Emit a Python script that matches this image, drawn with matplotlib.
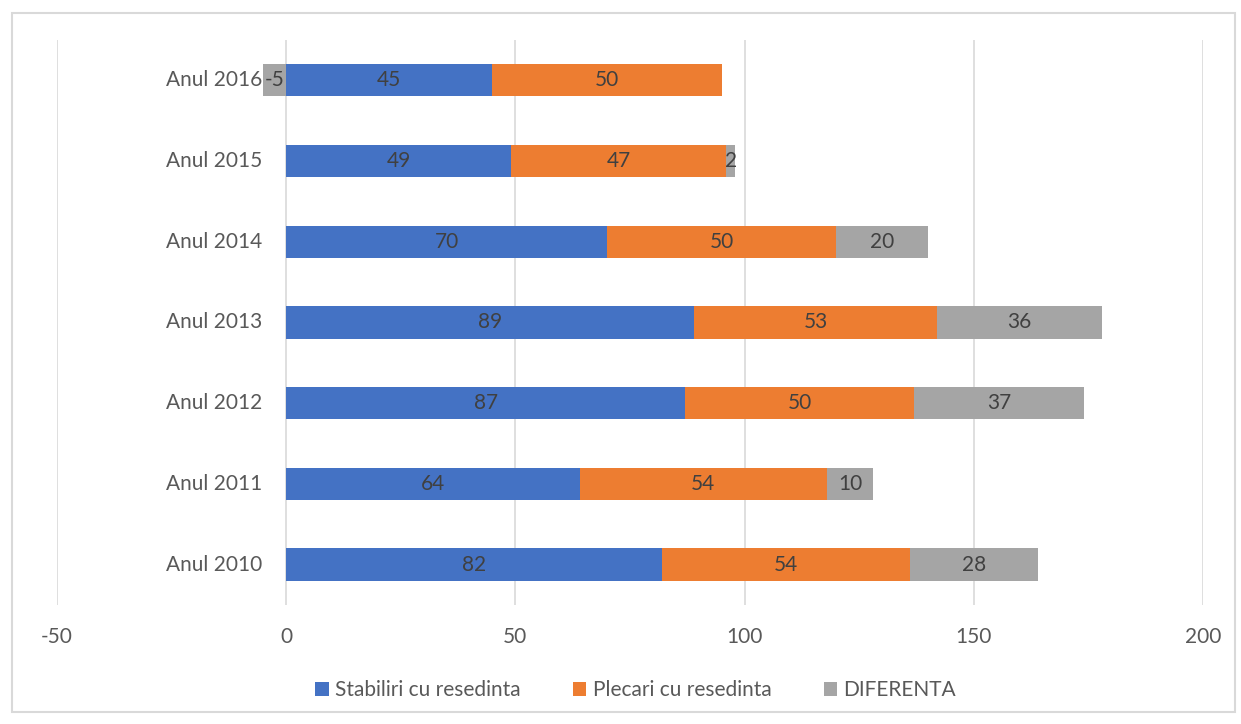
import numpy as np
import matplotlib.pyplot as plt
from matplotlib.patches import Rectangle

# date: stabiliri / plecari cu resedinta si diferenta, pe ani
ani = ["Anul 2010", "Anul 2011", "Anul 2012", "Anul 2013", "Anul 2014", "Anul 2015", "Anul 2016"]
stabiliri = [82, 64, 87, 89, 70, 49, 45]
plecari = [54, 54, 50, 53, 50, 47, 50]
diferenta = [28, 10, 37, 36, 20, 2, -5]

plt.rcParams['font.family'] = ['Lato', 'DejaVu Sans']
plt.rcParams['axes.unicode_minus'] = False
text_col = "#595959"
lbl_col = "#404040"
fs = 15

fig = plt.figure(figsize=(12.41, 7.24), dpi=100)
ax = fig.add_axes([0.0459, 0.1644, 0.9235, 0.7804])

# chenarul graficului
fig.patches.append(Rectangle((12 / 1241, 1 - 712 / 724), 1223 / 1241, 699 / 724,
                             transform=fig.transFigure, fill=False,
                             edgecolor="#d9d9d9", linewidth=1.5))

y = np.arange(len(ani))
h = 0.4
stab = np.array(stabiliri)
plec = np.array(plecari)
dif = np.array(diferenta)

b1 = ax.barh(y, stab, height=h, color="#4472C4", label="Stabiliri cu resedinta", zorder=3)
b2 = ax.barh(y, plec, left=stab, height=h, color="#ED7D31", label="Plecari cu resedinta", zorder=3)
# valorile negative se stivuiesc de la 0 spre stanga
dif_left = np.where(dif >= 0, stab + plec, 0)
b3 = ax.barh(y, dif, left=dif_left, height=h, color="#A5A5A5", label="DIFERENTA", zorder=3)

for vals, lefts in [(stab, np.zeros_like(stab)), (plec, stab), (dif, dif_left)]:
    for yi, v, l in zip(y, vals, lefts):
        ax.text(l + v / 2, yi, str(v), ha="center", va="center",
                fontsize=fs, color=lbl_col, zorder=4)

ax.set_xlim(-50, 200)
ax.set_ylim(-0.5, len(ani) - 0.5)
ax.set_xticks([-50, 0, 50, 100, 150, 200])
ax.set_yticks(y)
ax.set_yticklabels([])
ax.grid(axis="x", color="#d9d9d9", linewidth=1.2, zorder=0)
for s in ax.spines.values():
    s.set_visible(False)
ax.tick_params(axis="both", length=0, labelsize=fs, colors=text_col)
ax.tick_params(axis="x", pad=16)

# etichetele de an stau langa axa 0
for yi, an in zip(y, ani):
    ax.annotate(an, (0, yi), xytext=(-17, 0), textcoords="offset points",
                ha="right", va="center", fontsize=fs, color=text_col)

ax.legend(loc="upper center", bbox_to_anchor=(0.505, -0.1), ncol=3, frameon=False,
          fontsize=fs, labelcolor=text_col, handlelength=0.65, handleheight=0.65,
          handletextpad=0.3, columnspacing=2.5)

fig.savefig("out.png", dpi=100)
